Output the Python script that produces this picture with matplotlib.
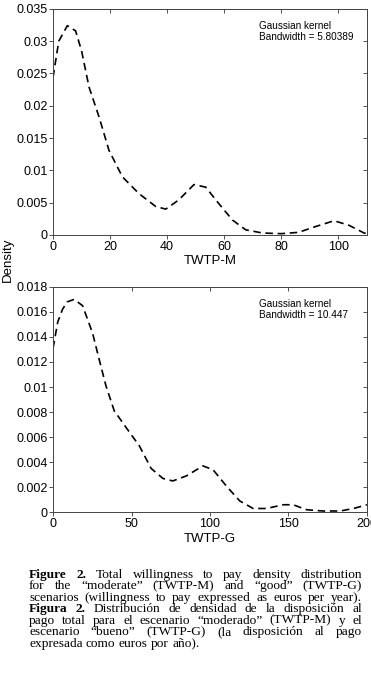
import matplotlib
matplotlib.use("Agg")
import matplotlib.pyplot as plt

sans = "Liberation Sans"
serif = "Liberation Serif"

# density estimates
m_x = [0, 2, 5, 7.9, 10, 12.6, 16.1, 19.6, 24.3, 30.1, 36, 39.5, 44, 49.4, 53.5, 58,
       62.9, 67.5, 73.4, 80, 86, 92, 98.5, 103.7, 109, 110]
m_y = [0.0244, 0.0300, 0.0324, 0.0316, 0.0285, 0.0229, 0.0183, 0.0131, 0.0090, 0.0064,
       0.0044, 0.0040, 0.0054, 0.0078, 0.0074, 0.0049, 0.0023, 0.0008, 0.0003, 0.0002,
       0.0004, 0.0013, 0.0022, 0.0015, 0.0003, 0.0002]

g_x = [0, 3, 6, 9, 13.4, 18.8, 25.2, 29.4, 33.7, 39, 47.5, 55, 62.5, 70, 76.3, 84.9,
       95.5, 101.9, 110.4, 119, 127.5, 136, 146.7, 153, 161.6, 172, 183, 191.5, 200]
g_y = [0.0131, 0.0152, 0.0162, 0.0168, 0.0170, 0.0165, 0.0143, 0.0122, 0.0101, 0.0081,
       0.0066, 0.0053, 0.0035, 0.0027, 0.0025, 0.0029, 0.0037, 0.0034, 0.0021, 0.0009,
       0.0003, 0.0003, 0.0006, 0.0006, 0.0002, 0.0001, 0.0001, 0.0003, 0.0006]

m_xticks = [0, 20, 40, 60, 80, 100]
m_yticks = [0, 0.005, 0.01, 0.015, 0.02, 0.025, 0.03, 0.035]
m_ylabels = ["0", "0.005", "0.01", "0.015", "0.02", "0.025", "0.03", "0.035"]
g_xticks = [0, 50, 100, 150, 200]
g_yticks = [0, 0.002, 0.004, 0.006, 0.008, 0.01, 0.012, 0.014, 0.016, 0.018]
g_ylabels = ["0", "0.002", "0.004", "0.006", "0.008", "0.01", "0.012", "0.014", "0.016", "0.018"]

fig = plt.figure(figsize=(3.71, 6.83), dpi=100)
ax1 = fig.add_axes([0.143, 0.656, 0.846, 0.331])
ax2 = fig.add_axes([0.143, 0.250, 0.846, 0.330])


def style(ax, xt, yt, yl, xlim, ylim, xlabel, note):
    ax.set_xlim(*xlim)
    ax.set_ylim(*ylim)
    ax.set_xticks(xt)
    ax.set_xticklabels([str(v) for v in xt], fontfamily=sans, fontsize=9)
    ax.set_yticks(yt)
    ax.set_yticklabels(yl, fontfamily=sans, fontsize=9)
    ax.tick_params(direction="out", length=3, width=0.6, pad=1, color="#333333")
    for s in ax.spines.values():
        s.set_linewidth(0.7)
        s.set_color("#444444")
    # inward ticks on top and right, no labels
    top = ax.secondary_xaxis("top")
    top.set_xticks(xt)
    top.tick_params(direction="in", length=3, width=0.6, labeltop=False, color="#333333")
    rgt = ax.secondary_yaxis("right")
    rgt.set_yticks(yt)
    rgt.tick_params(direction="in", length=3, width=0.6, labelright=False, color="#333333")
    for a in (top, rgt):
        for s in a.spines.values():
            s.set_linewidth(0.7)
            s.set_color("#444444")
    ax.set_xlabel(xlabel, fontfamily=sans, fontsize=9.5, labelpad=2)
    ax.text(0.656, 0.947, note, transform=ax.transAxes, fontfamily=sans,
            fontsize=7.2, va="top", ha="left", linespacing=1.1)


ax1.plot(m_x, m_y, color="black", lw=1.2, dashes=(4.5, 2.8))
style(ax1, m_xticks, m_yticks, m_ylabels, (0, 110), (0, 0.035),
      "TWTP-M", "Gaussian kernel\nBandwidth = 5.80389")

ax2.plot(g_x, g_y, color="black", lw=1.2, dashes=(4.5, 2.8))
style(ax2, g_xticks, g_yticks, g_ylabels, (0, 200), (0, 0.018),
      "TWTP-G", "Gaussian kernel\nBandwidth = 10.447")

fig.text(0.02, 0.619, "Density", rotation=90, fontfamily=sans, fontsize=9.5,
         ha="center", va="center")

# caption, justified by hand
caption = [
    ([("Figure 2.", True), ("Total willingness to pay density distribution", False)], True),
    ([("for the \u201cmoderate\u201d (TWTP-M) and \u201cgood\u201d (TWTP-G)", False)], True),
    ([("scenarios (willingness to pay expressed as euros per year).", False)], True),
    ([("Figura 2.", True), ("Distribuci\u00f3n de densidad de la disposici\u00f3n al", False)], True),
    ([("pago total para el escenario \u201cmoderado\u201d (TWTP-M) y el", False)], True),
    ([("escenario \u201cbueno\u201d (TWTP-G) (la disposici\u00f3n al pago", False)], True),
    ([("expresada como euros por a\u00f1o).", False)], False),
]
left_px, right_px = 29, 362
first_base = 577.6
line_h = 11.5
fs = 9.6
W, H = 371, 683
r = fig.canvas.get_renderer()

sp = fig.text(0, 0, "a a", fontfamily=serif, fontsize=fs)
sa = fig.text(0, 0, "aa", fontfamily=serif, fontsize=fs)
space_w = sp.get_window_extent(r).width - sa.get_window_extent(r).width
sp.remove()
sa.remove()

for i, (parts, justify) in enumerate(caption):
    words = []
    for txt, bold in parts:
        for w in txt.split(" "):
            words.append((w, bold))
    y = 1 - (first_base + i * line_h) / H
    arts = []
    widths = []
    for w, bold in words:
        t = fig.text(0, y, w, fontfamily=serif, fontsize=fs,
                     fontweight="bold" if bold else "normal", va="baseline", ha="left")
        arts.append(t)
        widths.append(t.get_window_extent(r).width)
    total = sum(widths)
    if justify and len(words) > 1:
        gap = (right_px - left_px - total) / (len(words) - 1)
    else:
        gap = space_w
    x = left_px
    for t, wd in zip(arts, widths):
        t.set_x(x / W)
        x += wd + gap

fig.savefig("out.png", dpi=100)
